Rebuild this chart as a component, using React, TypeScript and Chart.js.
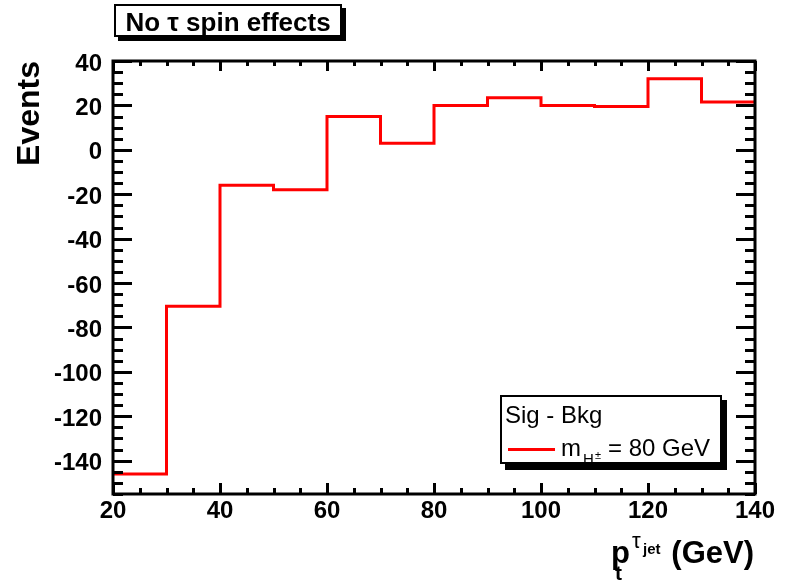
import React, { useEffect, useRef } from 'react';
import { Chart, registerables } from 'chart.js';

Chart.register(...registerables);

// ---- data ----
const binEdges = [20, 30, 40, 50, 60, 70, 80, 90, 100, 110, 120, 130, 140];
const sigMinusBkg = [-146, -70.5, -16, -18, 15, 3, 20, 23.5, 20, 19.5, 32, 21.5];
const xTickValues = [20, 40, 60, 80, 100, 120, 140];
const yTickValues = [-140, -120, -100, -80, -60, -40, -20, 0, 20, 40];
const xMin = 20;
const xMax = 140;
const yMin = -155;
const yMax = 40;
const titleText = 'No τ spin effects';
const legendHeader = 'Sig - Bkg';
const yAxisTitle = 'Events';

const FONT = '"Liberation Sans", Arial, Helvetica, sans-serif';

const rootStyle = {
  id: 'rootStyle',
  afterDraw(chart: any) {
    const ctx: CanvasRenderingContext2D = chart.ctx;
    const { left, right, top, bottom } = chart.chartArea;
    const xs = chart.scales.x;
    const ys = chart.scales.y;
    ctx.save();
    ctx.strokeStyle = '#000';
    ctx.lineWidth = 3;
    ctx.lineCap = 'butt';
    ctx.beginPath();
    for (let v = xs.min; v <= xs.max + 1e-9; v += 5) {
      const px = Math.round(xs.getPixelForValue(v)) + 0.5;
      const major = Math.abs(v % 20) < 1e-9;
      const lb = major ? 11 : 6;
      const lt = major ? 10 : 5;
      ctx.moveTo(px, bottom);
      ctx.lineTo(px, bottom - lb);
      ctx.moveTo(px, top);
      ctx.lineTo(px, top + lt);
    }
    const yStart = Math.ceil(ys.min / 5) * 5;
    for (let v = yStart; v <= ys.max + 1e-9; v += 5) {
      const py = Math.round(ys.getPixelForValue(v)) + 0.5;
      const major = Math.abs(v % 20) < 1e-9;
      const len = major ? 19 : 10;
      ctx.moveTo(left, py);
      ctx.lineTo(left + len, py);
      ctx.moveTo(right, py);
      ctx.lineTo(right - len, py);
    }
    ctx.stroke();
    ctx.lineWidth = 3;
    ctx.strokeRect(left, top, right - left, bottom - top);

    // title box
    ctx.fillStyle = '#000';
    ctx.fillRect(118, 8, 228, 33);
    ctx.fillStyle = '#fff';
    ctx.fillRect(114, 4, 228, 33);
    ctx.lineWidth = 2;
    ctx.strokeRect(115, 5, 226, 31);
    ctx.fillStyle = '#000';
    ctx.font = `bold 26px ${FONT}`;
    ctx.textAlign = 'center';
    ctx.textBaseline = 'alphabetic';
    ctx.fillText(titleText, 228, 31);

    // legend
    ctx.fillStyle = '#000';
    ctx.fillRect(505, 400, 222, 70);
    ctx.fillStyle = '#fff';
    ctx.fillRect(500, 395, 222, 69);
    ctx.lineWidth = 2;
    ctx.strokeRect(501, 396, 220, 67);
    ctx.fillStyle = '#000';
    ctx.textAlign = 'left';
    ctx.font = `24px ${FONT}`;
    ctx.fillText(legendHeader, 505, 423);
    const ds = chart.data.datasets[0];
    ctx.strokeStyle = ds.borderColor;
    ctx.lineWidth = 3;
    ctx.beginPath();
    ctx.moveTo(508, 449.5);
    ctx.lineTo(555, 449.5);
    ctx.stroke();
    ctx.fillStyle = '#000';
    ctx.font = `24px ${FONT}`;
    ctx.fillText('m', 561, 456);
    ctx.font = `15px ${FONT}`;
    ctx.fillText('H', 583, 464);
    ctx.font = `11px ${FONT}`;
    ctx.fillText('±', 595, 459);
    ctx.font = `24px ${FONT}`;
    ctx.fillText('= 80 GeV', 608, 456);

    // x axis title
    ctx.font = `bold 31px ${FONT}`;
    ctx.textAlign = 'right';
    ctx.fillText('(GeV)', 754, 563);
    ctx.textAlign = 'left';
    ctx.fillText('p', 611, 563);
    ctx.font = `bold 21px ${FONT}`;
    ctx.fillText('t', 615, 580);
    ctx.font = `22px ${FONT}`;
    ctx.fillText('τ', 632, 548);
    ctx.font = `bold 15px ${FONT}`;
    ctx.fillText('jet', 643, 554);
    ctx.restore();
  },
};

export default function App() {
  const ref = useRef<HTMLCanvasElement>(null);
  useEffect(() => {
    document.body.style.margin = '0';
    const points = binEdges.map((e, i) => ({
      x: e,
      y: sigMinusBkg[Math.min(i, sigMinusBkg.length - 1)],
    }));
    const chart = new Chart(ref.current!, {
      type: 'line',
      data: {
        datasets: [
          {
            label: 'm_H± = 80 GeV',
            data: points,
            borderColor: 'rgb(255,0,0)',
            borderWidth: 3,
            pointRadius: 0,
            stepped: 'before',
            fill: false,
          },
        ],
      },
      options: {
        responsive: false,
        animation: false,
        devicePixelRatio: 1,
        layout: { padding: { left: 0, right: 36, top: 61, bottom: 0 } },
        plugins: { legend: { display: false }, tooltip: { enabled: false } },
        scales: {
          x: {
            type: 'linear',
            min: xMin,
            max: xMax,
            afterBuildTicks: (s: any) => {
              s.ticks = xTickValues.map((v) => ({ value: v }));
            },
            afterFit: (s: any) => {
              s.height = 87;
            },
            grid: { display: false, drawTicks: false },
            border: { display: false },
            ticks: {
              padding: 3,
              maxRotation: 0,
              color: '#000',
              font: { family: FONT, size: 24, weight: 'bold' },
            },
          },
          y: {
            type: 'linear',
            min: yMin,
            max: yMax,
            afterBuildTicks: (s: any) => {
              s.ticks = yTickValues.map((v) => ({ value: v }));
            },
            afterFit: (s: any) => {
              s.width = 113;
            },
            grid: { display: false, drawTicks: false },
            border: { display: false },
            title: {
              display: true,
              text: yAxisTitle,
              align: 'end',
              color: '#000',
              padding: { top: 11, bottom: 0 },
              font: { family: FONT, size: 32, weight: 'bold' },
            },
            ticks: {
              padding: 11,
              labelOffset: 3,
              color: '#000',
              font: { family: FONT, size: 24, weight: 'bold' },
            },
          },
        },
      },
      plugins: [rootStyle],
    } as any);
    return () => chart.destroy();
  }, []);
  return (
    <div style={{ width: 791, height: 581, background: '#fff' }}>
      <canvas ref={ref} width={791} height={581} style={{ display: 'block' }} />
    </div>
  );
}
